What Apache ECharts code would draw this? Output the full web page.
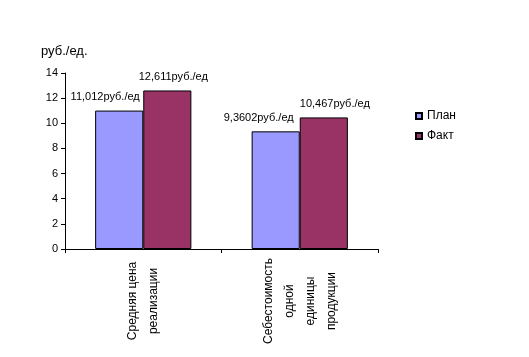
<!DOCTYPE html>
<html><head><meta charset="utf-8">
<script src="https://cdn.jsdelivr.net/npm/echarts@6/dist/echarts.min.js"></script>
<style>html,body{margin:0;padding:0;background:#fff}#c{width:529px;height:357px}</style>
</head><body><div id="c"></div>
<script>
var categories = ['Средняя цена\nреализации', 'Себестоимость\nодной\nединицы\nпродукции'];
var planValues = [11.012, 9.3602];
var factValues = [12.611, 10.467];
var planLabels = ['11,012руб./ед', '9,3602руб./ед'];
var factLabels = ['12,611руб./ед', '10,467руб./ед'];
var yTicks = [0, 2, 4, 6, 8, 10, 12, 14];
var unitText = 'руб./ед.';
var planOffsets = [-14, -17];
var factOffsets = [6, 11];

var FONT = '"Liberation Sans", Arial, sans-serif';
function mk(vals, labels, offs) {
  return vals.map(function (v, i) {
    return { value: v, label: { formatter: labels[i], offset: [offs[i], 0] } };
  });
}
var chart = echarts.init(document.getElementById('c'));
chart.setOption({
  animation: false,
  backgroundColor: '#fff',
  textStyle: { fontFamily: FONT },
  grid: { left: 65, right: 151, top: 73, bottom: 108 },
  graphic: [{ type: 'text', left: 41, top: 45, style: { text: unitText, font: '13px ' + FONT, fill: '#000' } }],
  legend: {
    left: 415, top: 110, padding: 0, orient: 'vertical', itemWidth: 6, itemHeight: 6, itemGap: 8,
    textStyle: { fontSize: 12, color: '#000', fontFamily: FONT },
    data: [{ name: 'План', icon: 'rect' }, { name: 'Факт', icon: 'rect' }]
  },
  xAxis: {
    type: 'category', data: categories,
    axisLine: { lineStyle: { color: '#000', width: 1 } },
    axisTick: { show: true, length: 4, lineStyle: { color: '#000' } },
    axisLabel: { rotate: 90, align: 'center', verticalAlign: 'middle', margin: 52, lineHeight: 21, fontSize: 12, color: '#000', fontFamily: FONT, interval: 0 }
  },
  yAxis: {
    type: 'value', min: 0, max: 14, interval: 2,
    axisLine: { show: true, lineStyle: { color: '#000', width: 1 } },
    axisTick: { show: true, length: 4, lineStyle: { color: '#000' } },
    axisLabel: { fontSize: 11, color: '#000', margin: 7, fontFamily: FONT,
      formatter: function (v) { return yTicks.indexOf(v) >= 0 ? String(v) : ''; } },
    splitLine: { show: false }
  },
  series: [
    { name: 'План', type: 'bar', data: mk(planValues, planLabels, planOffsets), barGap: '0%', barCategoryGap: '38.5%',
      itemStyle: { color: '#9999FF', borderColor: '#000', borderWidth: 1 },
      label: { show: true, position: 'top', distance: 8, fontSize: 11, color: '#000', fontFamily: FONT } },
    { name: 'Факт', type: 'bar', data: mk(factValues, factLabels, factOffsets), barGap: '0%', barCategoryGap: '38.5%',
      itemStyle: { color: '#993366', borderColor: '#000', borderWidth: 1 },
      label: { show: true, position: 'top', distance: 8, fontSize: 11, color: '#000', fontFamily: FONT } }
  ]
});
</script></body></html>
